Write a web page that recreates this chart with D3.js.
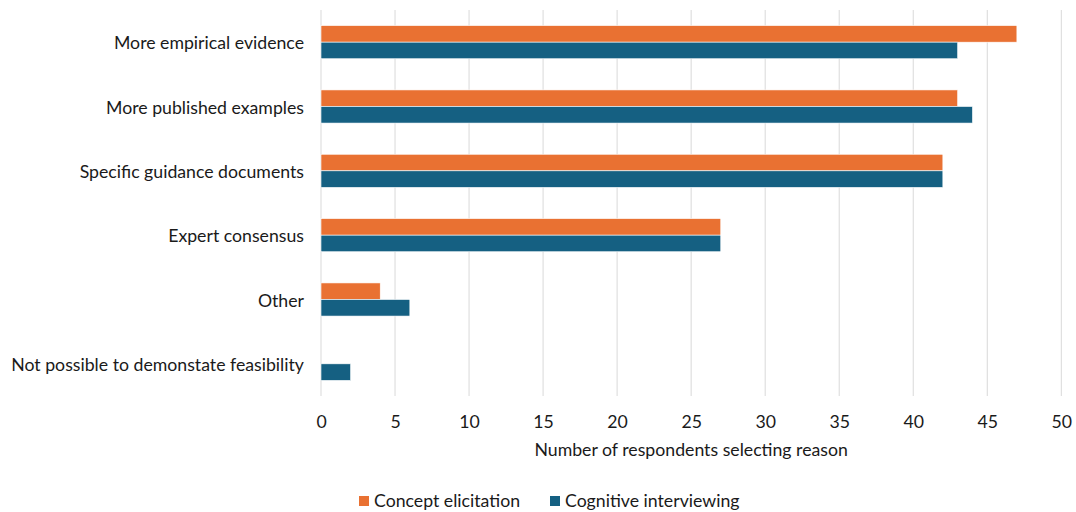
<!DOCTYPE html>
<html>
<head>
<meta charset="utf-8">
<script src="https://cdn.jsdelivr.net/npm/d3@7"></script>
<style>
  html, body { margin: 0; padding: 0; background: #fff; }
  svg text { font-family: Lato, "Liberation Sans", sans-serif; fill: #1a1a1a; }
</style>
</head>
<body>
<svg id="chart" width="1076" height="512"></svg>
<script>
// Reasons for needing more support, by study method
const categories = [
  "More empirical evidence",
  "More published examples",
  "Specific guidance documents",
  "Expert consensus",
  "Other",
  "Not possible to demonstate feasibility"
];
const seriesNames = ["Concept elicitation", "Cognitive interviewing"];
const conceptElicitation = [47, 43, 42, 27, 4, 0];
const cognitiveInterviewing = [43, 44, 42, 27, 6, 2];
const xTicks = [0, 5, 10, 15, 20, 25, 30, 35, 40, 45, 50];
const colors = ["#E97132", "#156082"];

const svg = d3.select("#chart");
const margin = { top: 10, left: 321, right: 15, bottom: 116 };
const width = 1076, height = 512;
const plotBottom = height - margin.bottom;
const fontSize = 17.7;

const x = d3.scaleLinear().domain([0, 50]).range([margin.left, 1061.3]);
const y = d3.scaleBand().domain(categories).range([margin.top, plotBottom]).paddingInner(0.485).paddingOuter(0.2425);
const sub = d3.scaleBand().domain(seriesNames).range([0, y.bandwidth()]);

// vertical gridlines
svg.append("g")
  .selectAll("line")
  .data(xTicks)
  .join("line")
  .attr("x1", d => x(d)).attr("x2", d => x(d))
  .attr("y1", margin.top).attr("y2", plotBottom)
  .attr("stroke", "#d9d9d9").attr("stroke-width", 1);

// bars
const rows = categories.map((c, i) => ({ cat: c, vals: [conceptElicitation[i], cognitiveInterviewing[i]] }));
const g = svg.append("g");
rows.forEach(r => {
  r.vals.forEach((v, j) => {
    if (v <= 0) return;
    g.append("rect")
      .attr("x", x(0))
      .attr("y", y(r.cat) + sub(seriesNames[j]))
      .attr("width", x(v) - x(0))
      .attr("height", sub.bandwidth())
      .attr("fill", colors[j])
      .attr("stroke", "#ffffff").attr("stroke-width", 0.6);
  });
});

// category labels
const yAxis = d3.axisLeft(y).tickSize(0).tickPadding(17);
const ya = svg.append("g").attr("transform", `translate(${margin.left},1.5)`).call(yAxis);
ya.select(".domain").remove();
ya.selectAll("text").attr("font-size", fontSize).style("fill", "#1a1a1a");

// value axis
const xAxis = d3.axisBottom(x).tickValues(xTicks).tickSize(0).tickPadding(19);
const xa = svg.append("g").attr("transform", `translate(0,${plotBottom})`).call(xAxis);
xa.select(".domain").remove();
xa.selectAll("text").attr("font-size", fontSize).style("fill", "#1a1a1a");

svg.append("text")
  .attr("x", (x(0) + x(50)) / 2)
  .attr("y", 456)
  .attr("text-anchor", "middle")
  .attr("font-size", fontSize)
  .text("Number of respondents selecting reason");

// legend
const legendItems = [
  { name: seriesNames[0], color: colors[0], x: 359 },
  { name: seriesNames[1], color: colors[1], x: 550 }
];
const lg = svg.append("g");
legendItems.forEach(d => {
  lg.append("rect").attr("x", d.x).attr("y", 496).attr("width", 10).attr("height", 10).attr("fill", d.color);
  lg.append("text").attr("x", d.x + 15).attr("y", 507).attr("font-size", fontSize).text(d.name);
});
</script>
</body>
</html>
